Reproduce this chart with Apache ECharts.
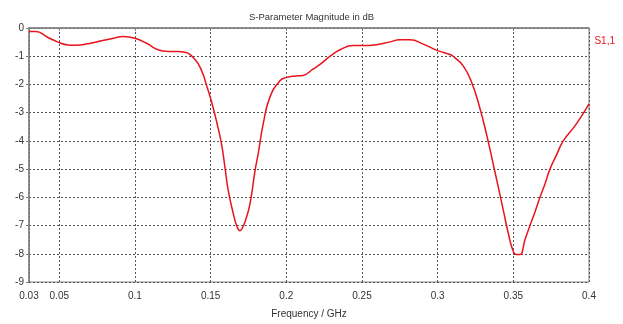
<!DOCTYPE html>
<html>
<head>
<meta charset="utf-8">
<script src="https://cdn.jsdelivr.net/npm/echarts@6/dist/echarts.min.js"></script>
<style>
  html, body { margin: 0; padding: 0; background: #fff; }
  #chart { width: 623px; height: 324px; }
</style>
</head>
<body>
<div id="chart"></div>
<script>
  // S1,1 magnitude (GHz, dB)
  var freq = [0.0300, 0.0346, 0.0420, 0.0492, 0.0558, 0.0604, 0.0700, 0.0780, 0.0860, 0.0921,
    0.1000, 0.1080, 0.1152, 0.1218, 0.1280, 0.1331, 0.1397, 0.1441, 0.1474, 0.1507,
    0.1540, 0.1573, 0.1595, 0.1617, 0.1650, 0.1675, 0.1694, 0.1710, 0.1727, 0.1760,
    0.1793, 0.1815, 0.1848, 0.1892, 0.1958, 0.2003, 0.2060, 0.2110, 0.2176, 0.2223,
    0.2290, 0.2355, 0.2443, 0.2500, 0.2597, 0.2680, 0.2751, 0.2817, 0.2905, 0.3000,
    0.3082, 0.3115, 0.3170, 0.3225, 0.3280, 0.3324, 0.3368, 0.3401, 0.3434, 0.3467,
    0.3500, 0.3522, 0.3544, 0.3577, 0.3610, 0.3643, 0.3676, 0.3709, 0.3742, 0.3787,
    0.3830, 0.3919, 0.4000];
  var s11 = [-0.12, -0.12, -0.32, -0.50, -0.60, -0.61, -0.55, -0.45, -0.36, -0.30,
    -0.36, -0.55, -0.77, -0.83, -0.83, -0.86, -1.12, -1.52, -2.05, -2.63,
    -3.33, -4.14, -4.95, -5.77, -6.58, -7.05, -7.18, -7.08, -6.87, -6.23,
    -5.07, -4.43, -3.38, -2.45, -1.87, -1.75, -1.70, -1.68, -1.46, -1.29,
    -1.00, -0.77, -0.62, -0.62, -0.59, -0.50, -0.42, -0.42, -0.57, -0.80,
    -0.94, -1.06, -1.35, -1.93, -2.86, -3.79, -4.84, -5.65, -6.46, -7.28,
    -7.92, -8.03, -8.03, -7.50, -7.00, -6.52, -6.00, -5.53, -5.00, -4.48,
    -4.00, -3.38, -2.69];
  var xTicks = [0.03, 0.05, 0.1, 0.15, 0.2, 0.25, 0.3, 0.35, 0.4];

  var font = 'Liberation Sans';
  var chart = echarts.init(document.getElementById('chart'));
  var points = [];
  for (var i = 0; i < freq.length; i++) {
    points.push([freq[i], s11[i]]);
  }
  chart.setOption({
    animation: false,
    backgroundColor: '#fff',
    title: {
      text: 'S-Parameter Magnitude in dB',
      left: 'center',
      top: 7,
      textStyle: { fontFamily: font, fontSize: 9.5, fontWeight: 'normal', color: '#333' }
    },
    legend: {
      right: 3,
      top: 29,
      icon: 'none',
      itemWidth: 0,
      itemGap: 0,
      textStyle: { fontFamily: font, fontSize: 10, color: '#e8141e' }
    },
    grid: {
      left: 29, top: 28, right: 34, bottom: 38,
      show: true,
      borderColor: '#808080',
      borderWidth: 1
    },
    xAxis: {
      type: 'value',
      min: 0.03,
      max: 0.4,
      name: 'Frequency / GHz',
      nameLocation: 'middle',
      nameGap: 27,
      nameTextStyle: { fontFamily: font, fontSize: 10, color: '#333' },
      axisLine: { lineStyle: { color: '#808080', width: 1.5 } },
      axisTick: { show: true, length: 3, customValues: xTicks, lineStyle: { color: '#808080' } },
      axisLabel: { customValues: xTicks, fontFamily: font, fontSize: 10, color: '#333', margin: 9 },
      splitLine: { show: true, lineStyle: { color: '#555', type: [2, 2], width: 1 } }
    },
    yAxis: {
      type: 'value',
      min: -9,
      max: 0,
      interval: 1,
      axisLine: { show: true, lineStyle: { color: '#808080', width: 1.5 } },
      axisTick: { show: true, length: 3, lineStyle: { color: '#808080' } },
      axisLabel: { fontFamily: font, fontSize: 10, color: '#333', margin: 5 },
      splitLine: { show: true, lineStyle: { color: '#555', type: [2, 2], width: 1 } }
    },
    series: [{
      name: 'S1,1',
      type: 'line',
      data: points,
      smooth: 0.5,
      showSymbol: false,
      lineStyle: { color: '#e8141e', width: 1.5 },
      itemStyle: { color: '#e8141e' }
    }]
  });
</script>
</body>
</html>
